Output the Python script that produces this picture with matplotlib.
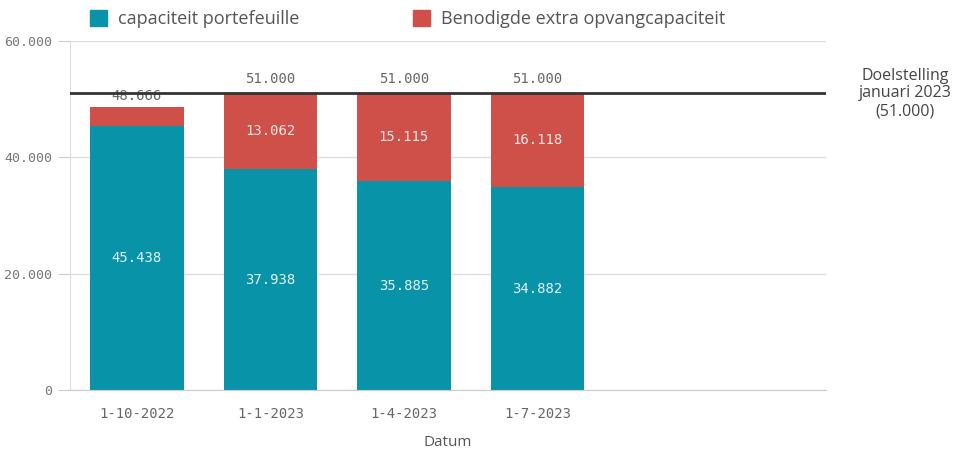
import matplotlib
matplotlib.use("Agg")
import matplotlib.pyplot as plt
import numpy as np
from matplotlib.patches import Patch

categories = ["1-10-2022", "1-1-2023", "1-4-2023", "1-7-2023"]
capaciteit = [45438, 37938, 35885, 34882]
extra = [3228, 13062, 15115, 16118]
totals_labels = ["48.666", "51.000", "51.000", "51.000"]
target = 51000
yticks = [0, 20000, 40000, 60000]
ytick_labels = ["0", "20.000", "40.000", "60.000"]

teal = "#0893a8"
red = "#cf5048"
mono = "DejaVu Sans Mono"
sans = "Open Sans"

fig = plt.figure(figsize=(9.61, 4.49), dpi=100)
ax = fig.add_axes([70/961, 1-390/449, (826-70)/961, (390-41)/449])

x = np.arange(len(categories))
w = 0.70
ax.bar(x, capaciteit, width=w, color=teal, zorder=2)
ax.bar(x, extra, width=w, bottom=capaciteit, color=red, zorder=2)

ax.set_xlim(-0.5, 5.16)
ax.set_ylim(0, 60000)

# target line
ax.axhline(target, color="#333333", lw=2, zorder=4)

def fmt(v):
    return f"{v:,}".replace(",", ".")

for i in range(len(categories)):
    ax.text(x[i], capaciteit[i] / 2, fmt(capaciteit[i]), ha="center", va="center",
            color="#e3f2f4", fontsize=10, family=mono, zorder=3)
    if extra[i] > 6000:
        ax.text(x[i], capaciteit[i] + extra[i] / 2, fmt(extra[i]), ha="center", va="center",
                color="#f8e6e4", fontsize=10, family=mono, zorder=3)
    tot = capaciteit[i] + extra[i]
    off = 5 if i > 0 else 3
    ax.annotate(totals_labels[i], (x[i], tot), xytext=(0, off), textcoords="offset points",
                ha="center", va="bottom", color="#666666", fontsize=10, family=mono, zorder=3)

# target label
ax.annotate("Doelstelling\njanuari 2023\n(51.000)", xy=(1.0, target), xycoords=("axes fraction", "data"),
            xytext=(79, 0), textcoords="offset pixels", ha="center", va="center",
            color="#444444", fontsize=11.5, family=sans, linespacing=1.15)

# axes styling
ax.set_yticks(yticks)
ax.set_yticklabels(ytick_labels, family=mono, fontsize=9.5, color="#777777")
ax.set_xticks(x)
ax.set_xticklabels(categories, family=mono, fontsize=10, color="#666666")
ax.tick_params(axis="y", length=9, color="#cccccc", pad=4)
ax.tick_params(axis="x", length=0, pad=12)
ax.grid(axis="y", color="#dddddd", lw=1, zorder=0)
for s in ["top", "right"]:
    ax.spines[s].set_visible(False)
ax.spines["left"].set_color("#dddddd")
ax.spines["bottom"].set_color("#cccccc")
ax.set_xlabel("Datum", family=sans, fontsize=11, color="#555555", labelpad=10)

# legend
handles = [Patch(color=teal), Patch(color=red)]
fig.legend(handles, ["capaciteit portefeuille", "Benodigde extra opvangcapaciteit"],
           loc="center left", bbox_to_anchor=(90/961, 1-19/449), ncol=2, frameon=False,
           prop={"family": sans, "size": 13}, labelcolor="#555555",
           handlelength=0.95, handleheight=0.95, columnspacing=6.3, handletextpad=0.6,
           borderpad=0, borderaxespad=0)

fig.savefig("out.png", dpi=100)
